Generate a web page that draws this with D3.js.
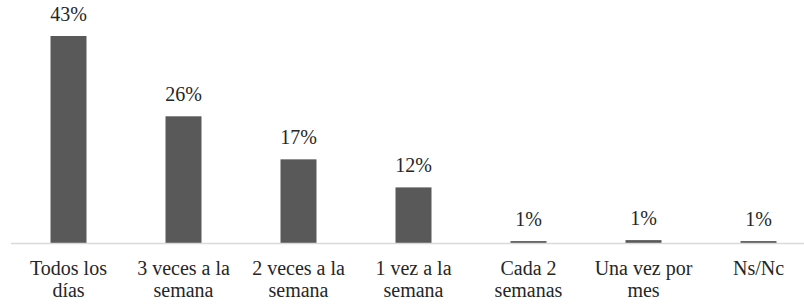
<!DOCTYPE html>
<html>
<head>
<meta charset="utf-8">
<script src="https://cdn.jsdelivr.net/npm/d3@7"></script>
<style>
  body { margin: 0; background: #fff; }
  svg { display: block; }
</style>
</head>
<body>
<div id="chart"></div>
<script>
// Frecuencia (porcentaje de respuestas)
const categories = ['Todos los días', '3 veces a la semana', '2 veces a la semana',
  '1 vez a la semana', 'Cada 2 semanas', 'Una vez por mes', 'Ns/Nc'];
const values = [42.9, 26.3, 17.4, 11.6, 0.5, 0.7, 0.5];

const width = 804, height = 307;
const margin = { top: 36, left: 11 };
const baseY = 243.5;
const fontFamily = '"Liberation Serif"';

const svg = d3.select('#chart')
  .append('svg')
  .attr('width', width)
  .attr('height', height);

// the plot area runs a bit past the right edge of the picture
const x = d3.scaleBand()
  .domain(categories)
  .range([margin.left, 816])
  .paddingInner(0.687)
  .paddingOuter(0.3435);

const y = d3.scaleLinear()
  .domain([0, 42.9])
  .range([baseY, margin.top]);

// bars
svg.selectAll('.bar')
  .data(values)
  .enter()
  .append('rect')
  .attr('class', 'bar')
  .attr('x', (d, i) => x(categories[i]))
  .attr('y', d => y(d))
  .attr('width', x.bandwidth())
  .attr('height', d => baseY - y(d))
  .attr('fill', '#595959');

// baseline
svg.append('line')
  .attr('x1', margin.left)
  .attr('x2', 816)
  .attr('y1', baseY)
  .attr('y2', baseY)
  .attr('stroke', '#d9d9d9')
  .attr('stroke-width', 1.5);

// value labels
svg.selectAll('.val')
  .data(values)
  .enter()
  .append('text')
  .attr('class', 'val')
  .attr('x', (d, i) => x(categories[i]) + x.bandwidth() / 2)
  .attr('y', d => y(d) - 15)
  .attr('text-anchor', 'middle')
  .style('font-family', fontFamily)
  .style('font-size', '20px')
  .attr('fill', '#262626')
  .text(d => Math.round(d) + '%');

// category labels, wrapped to the band step
const maxW = x.step() - 8;
const labels = svg.selectAll('.cat')
  .data(categories)
  .enter()
  .append('text')
  .attr('class', 'cat')
  .attr('x', d => x(d) + x.bandwidth() / 2)
  .attr('y', 275)
  .attr('text-anchor', 'middle')
  .style('font-family', fontFamily)
  .style('font-size', '20px')
  .attr('fill', '#262626');

labels.each(function(d) {
  const t = d3.select(this);
  const words = d.split(' ');
  let line = [];
  let tspan = t.append('tspan').attr('x', t.attr('x')).attr('dy', 0);
  words.forEach(w => {
    line.push(w);
    tspan.text(line.join(' '));
    if (tspan.node().getComputedTextLength() > maxW && line.length > 1) {
      line.pop();
      tspan.text(line.join(' '));
      line = [w];
      tspan = t.append('tspan').attr('x', t.attr('x')).attr('dy', 21.5).text(w);
    }
  });
});
</script>
</body>
</html>
